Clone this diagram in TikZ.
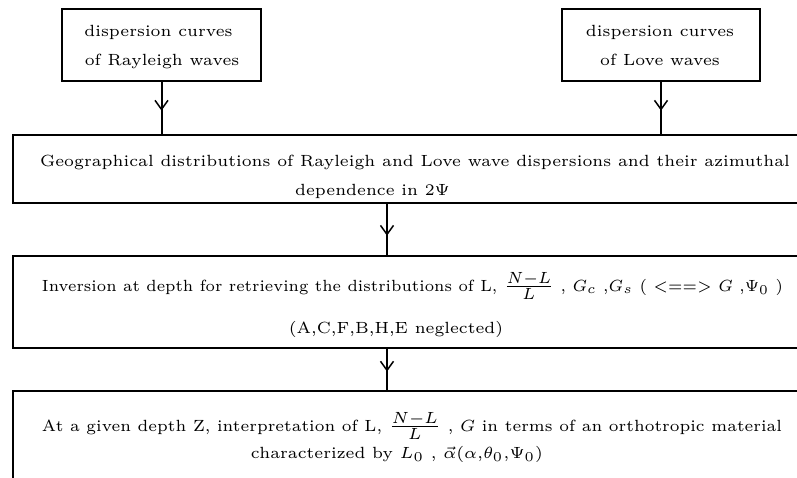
\documentclass[tikz,border=0pt]{standalone}
\usepackage{graphicx}
\usetikzlibrary{arrows.meta,decorations.markings}
\newcommand\tx[1]{\scalebox{2.7}{\fontsize{6}{7}\selectfont #1}}
\newcommand\txw[2]{\resizebox{#1}{\height}{\tx{#2}}}
\newcommand\NLfrac{\frac{\textstyle N{-}L}{\textstyle L}}
\begin{document}
\begin{tikzpicture}[x=1pt,y=-1pt,
  boxstyle/.style={draw=black,line width=1.4pt,inner sep=0pt},
  txt/.style={inner sep=0pt,anchor=base},
  flow/.style={line width=2pt,postaction={decorate},
    decoration={markings,mark=at position #1 with {\arrow{Straight Barb[length=9pt,width=13pt,line width=1.5pt]}}}},
]
\useasboundingbox (0,0) rectangle (797,478);
\clip (0,0) rectangle (797,478);
% boxes
\node[boxstyle,minimum width=199pt,minimum height=72pt] (R) at (161.5,45) {};
\node[boxstyle,minimum width=198pt,minimum height=72pt] (L) at (661,45) {};
\node[boxstyle,minimum width=817pt,minimum height=68pt] (B2) at (421.5,169) {};
\node[boxstyle,minimum width=817pt,minimum height=92pt] (B3) at (421.5,302) {};
\node[boxstyle,minimum width=817pt,minimum height=129pt] (B4) at (421.5,455.5) {};
% texts
\node[txt] (r1) at (158.5,37) {\tx{dispersion curves}};
\node[txt] (r2) at (162,66) {\tx{of Rayleigh waves}};
\node[txt] (l1) at (660,37) {\tx{dispersion curves}};
\node[txt] (l2) at (660,66) {\tx{of Love waves}};
\node[txt] (g1) at (415,167) {\tx{Geographical distributions of Rayleigh and Love wave dispersions and their azimuthal}};
\node[txt] (g2) at (372.5,196) {\tx{dependence in $2\Psi$}};
\node[txt] (i1) at (412.5,291) {\txw{741pt}{Inversion at depth for retrieving the distributions of L, $\NLfrac$ , $G_c$ ,$G_s$ ( $<==>$ $G$ ,$\Psi_0$ )}};
\node[txt] (i2) at (396,333) {\tx{(A,C,F,B,H,E neglected)}};
\node[txt] (a1) at (412,431) {\txw{740pt}{At a given depth Z, interpretation of L, $\NLfrac$ , $G$ in terms of an orthotropic material}};
\node[txt] (a2) at (397,458) {\tx{characterized by $L_0$ , $\vec{\alpha}(\alpha{,}\theta_0{,}\Psi_0)$}};
% connectors
\coordinate (c2) at (387,0);
\draw[flow=0.55] (R.south) -- (R.south |- B2.north);
\draw[flow=0.55] (L.south) -- (L.south |- B2.north);
\draw[flow=0.62] (c2 |- B2.south) -- (c2 |- B3.north);
\draw[flow=0.55] (c2 |- B3.south) -- (c2 |- B4.north);
\end{tikzpicture}
\end{document}
